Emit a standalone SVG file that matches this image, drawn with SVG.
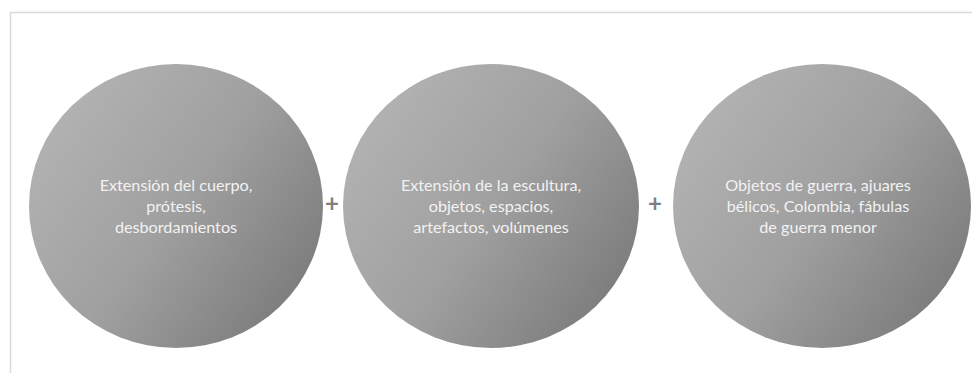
<svg xmlns="http://www.w3.org/2000/svg" width="972" height="373" viewBox="0 0 972 373">
  <style>
    .lbl { font-family: Lato, "Liberation Sans", sans-serif; font-size: 16.2px; fill: #f2f2f2; text-anchor: middle; }
    .plus { font-family: Lato, "Liberation Sans", sans-serif; font-size: 24px; font-weight: bold; fill: #7f7f7f; text-anchor: middle; }
    .node { fill: url(#g); }
  </style>
  <defs>
    <linearGradient id="g" x1="0" y1="0.15" x2="1" y2="0.85">
      <stop offset="0" stop-color="#b5b5b5"/>
      <stop offset="0.5" stop-color="#a0a0a0"/>
      <stop offset="1" stop-color="#777777"/>
    </linearGradient>
  </defs>
  <rect x="0" y="0" width="972" height="373" fill="#ffffff"/>
  <rect x="10.5" y="12.5" width="975" height="375" fill="none" stroke="#dadada" stroke-width="1.5"/>
  <g id="node1">
    <ellipse class="node" cx="176" cy="206" rx="147" ry="142"/>
    <text class="lbl" x="176" y="191">Extensión del cuerpo,</text>
    <text class="lbl" x="176" y="212">prótesis,</text>
    <text class="lbl" x="176" y="233">desbordamientos</text>
  </g>
  <g id="node2">
    <ellipse class="node" cx="491" cy="206" rx="148" ry="142"/>
    <text class="lbl" x="491" y="191">Extensión de la escultura,</text>
    <text class="lbl" x="491" y="212">objetos, espacios,</text>
    <text class="lbl" x="491" y="233">artefactos, volúmenes</text>
  </g>
  <g id="node3">
    <ellipse class="node" cx="822" cy="206" rx="149" ry="142"/>
    <text class="lbl" x="818" y="191">Objetos de guerra, ajuares</text>
    <text class="lbl" x="818" y="212">bélicos, Colombia, fábulas</text>
    <text class="lbl" x="818" y="233">de guerra menor</text>
  </g>
  <g id="connectors">
    <text class="plus" x="332" y="212">+</text>
    <text class="plus" x="655" y="212">+</text>
  </g>
</svg>
